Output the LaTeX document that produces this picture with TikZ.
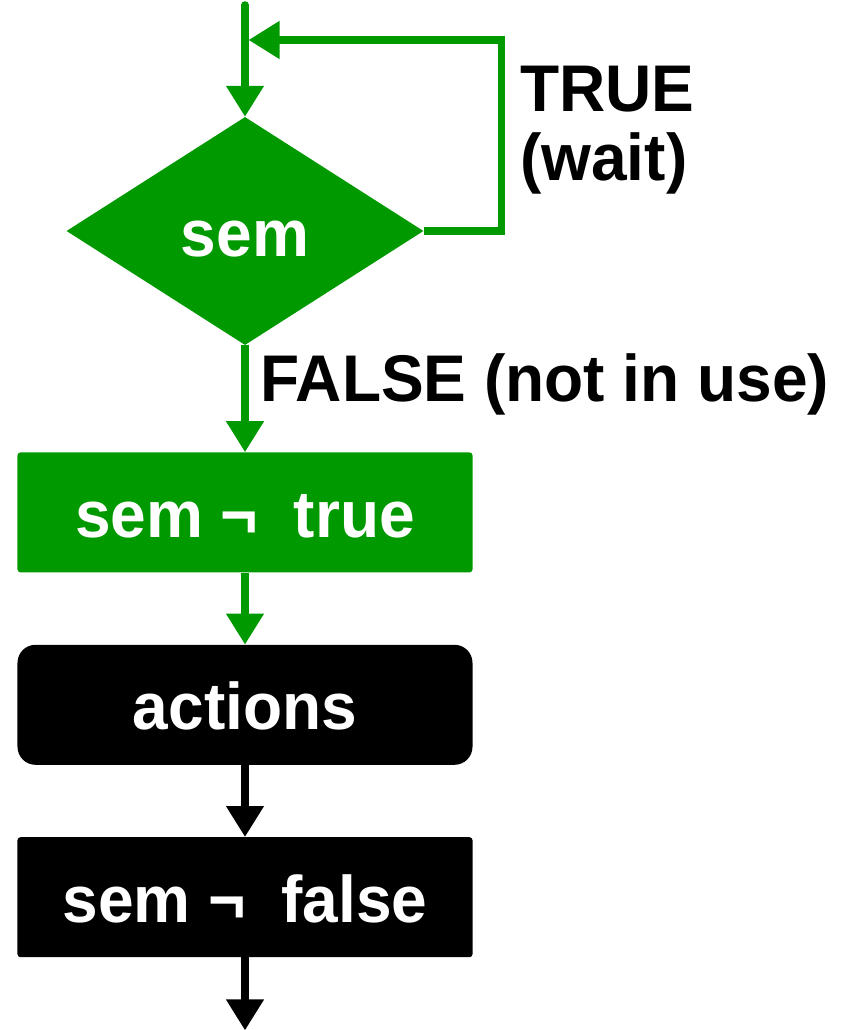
\documentclass[tikz,border=0pt]{standalone}
\usepackage{fontspec}
\setmainfont{Liberation Sans}[FakeStretch=0.97]
\usetikzlibrary{arrows.meta,positioning,shapes.geometric}
\definecolor{semgreen}{RGB}{0,153,0}

\begin{document}
\begin{tikzpicture}[x=1pt, y=1pt,
        font=\fontsize{66}{69}\selectfont\bfseries,
        decision/.style={diamond, fill=semgreen, text=white, inner sep=0pt, text height=52pt, text depth=0pt, minimum width=357pt, minimum height=228pt},  % test of the semaphore
        stepbox/.style={rectangle, fill=semgreen, text=white, rounded corners=3pt, text height=50pt, text depth=0pt, minimum width=455pt, minimum height=120pt},
        actbox/.style={stepbox, fill=black, rounded corners=18pt},
        flow/.style={-{Triangle[length=31pt, width=36pt]}, line width=7.5pt, semgreen},
        blackflow/.style={flow, black},
        lbl/.style={inner sep=0pt, align=left},
    ]
        \useasboundingbox (-245,231) rectangle (605,-799);

        %Nodes
        \node[decision] (Sem) at (0,0) {sem};
        \coordinate (Start) at (0,226);
        \coordinate (Join) at (3.5,191);
        \node[stepbox] (Take) [below=107pt of Sem] {sem ¬\ \ true};
        \node[actbox] (Actions) [below=72pt of Take] {actions};
        \node[stepbox, fill=black] (Give) [below=72pt of Actions] {sem ¬\ \ false};
        \coordinate[below=73pt of Give] (End);
        \node[lbl, anchor=west] (TrueLbl) at (275,100.5) {TRUE\\(wait)};
        \node[lbl, anchor=base west] (FalseLbl) at (15,-170) {FALSE (not in use)};

        %Lines
        \draw[flow, line cap=round] (Start) -- (Sem.north);
        \draw[flow] (Sem.east) -- ++(78,0) |- (Join);
        \draw[flow] (Sem.south) -- (Take.north);
        \draw[flow] (Take.south) -- (Actions.north);
        \draw[blackflow] (Actions.south) -- (Give.north);
        \draw[blackflow] (Give.south) -- (End);
    \end{tikzpicture}
\end{document}
